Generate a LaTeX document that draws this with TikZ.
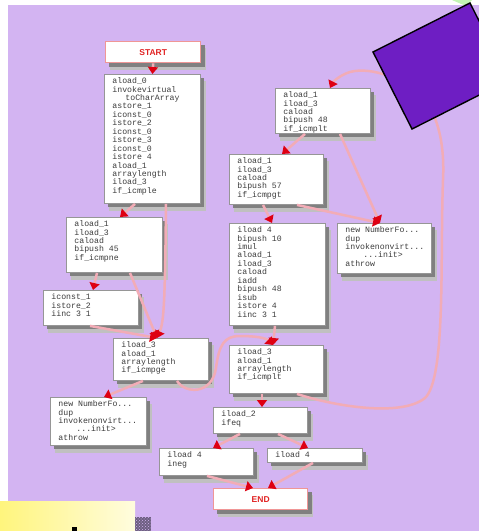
\documentclass[tikz,border=0pt]{standalone}
\usepackage{fontspec}
\usetikzlibrary{arrows.meta,patterns}
\newfontfamily\codefont{Liberation Mono}
\newfontfamily\labelfont{Liberation Sans}
\definecolor{lavender}{RGB}{211,180,242}
\definecolor{edgepink}{RGB}{242,172,182}
\definecolor{arrowred}{RGB}{222,0,18}
\definecolor{boxedge}{RGB}{150,150,150}
\definecolor{shdark}{RGB}{128,128,128}
\definecolor{shlight}{RGB}{192,192,192}
\definecolor{codetext}{RGB}{60,60,60}
\definecolor{termedge}{RGB}{240,150,150}
\definecolor{termtext}{RGB}{225,35,35}
\definecolor{squarepurple}{RGB}{110,30,195}
\definecolor{cornergreen}{RGB}{195,245,180}
\definecolor{noteyellow}{RGB}{255,245,125}
\definecolor{notepale}{RGB}{255,252,222}
\definecolor{speckle}{RGB}{110,95,130}
\pgfdeclarelayer{canvas}
\pgfdeclarelayer{shadow}
\pgfsetlayers{canvas,shadow,main}
% a block of bytecode lines, top aligned in a box of given width and height
\newcommand{\codelines}[3]{\begin{minipage}[c][#2][t]{#1}\raggedright\leftskip=8pt\relax
  \fontsize{8.2}{8.45}\selectfont\vspace*{3.2pt}#3\end{minipage}}
\tikzset{
  blk/.style={draw=boxedge, line width=0.9pt, fill=white, anchor=north west,
    inner sep=0pt, text=codetext, font=\codefont},
  term/.style={draw=termedge, line width=1.4pt, fill=white, anchor=north west,
    inner sep=0pt, text=termtext, font=\labelfont\bfseries\fontsize{8.5}{9}\selectfont},
  flow/.style={draw=edgepink, line width=2.5pt,
    -{Triangle[width=10pt,length=7pt,color=arrowred,fill=arrowred]}},
}
\begin{document}
\begin{tikzpicture}[x=1pt,y=-1pt]
\useasboundingbox (0,0) rectangle (479,531);
% canvas
\begin{pgfonlayer}{canvas}
\fill[white] (0,0) rectangle (479,531);
\fill[lavender] (8,5) rectangle (479,531);
\end{pgfonlayer}

% terminals
\node[term, minimum width=95pt, minimum height=21pt] (start) at (105,41) {START};
\node[term, minimum width=94pt, minimum height=21pt] (end) at (213,488) {END};

% basic blocks
\node[blk] (b1) at (104,74) {\codelines{96pt}{129pt}{aload\_0\\invokevirtual\\\hspace*{13pt}toCharArray\\astore\_1\\iconst\_0\\istore\_2\\iconst\_0\\istore\_3\\iconst\_0\\istore 4\\aload\_1\\arraylength\\iload\_3\\if\_icmple}};
\node[blk] (b2) at (275,88) {\codelines{95pt}{45pt}{aload\_1\\iload\_3\\caload\\bipush 48\\if\_icmplt}};
\node[blk] (b3) at (229,154) {\codelines{94pt}{50pt}{aload\_1\\iload\_3\\caload\\bipush 57\\if\_icmpgt}};
\node[blk] (b4) at (66,217) {\codelines{96pt}{55pt}{aload\_1\\iload\_3\\caload\\bipush 45\\if\_icmpne}};
\node[blk] (b5) at (43,290) {\codelines{95pt}{35pt}{iconst\_1\\istore\_2\\iinc 3 1}};
\node[blk] (b6) at (229,223) {\codelines{96pt}{102pt}{iload 4\\bipush 10\\imul\\aload\_1\\iload\_3\\caload\\iadd\\bipush 48\\isub\\istore 4\\iinc 3 1}};
\node[blk] (b7) at (337,223) {\codelines{94pt}{50pt}{new NumberFo...\\dup\\invokenonvirt...\\\hspace*{18pt}...init>\\athrow}};
\node[blk] (b8) at (113,338) {\codelines{95pt}{42pt}{iload\_3\\aload\_1\\arraylength\\if\_icmpge}};
\node[blk] (b9) at (229,345) {\codelines{94pt}{48pt}{iload\_3\\aload\_1\\arraylength\\if\_icmplt}};
\node[blk] (b10) at (50,397) {\codelines{96pt}{48pt}{new NumberFo...\\dup\\invokenonvirt...\\\hspace*{18pt}...init>\\athrow}};
\node[blk] (b11) at (213,407) {\codelines{94pt}{26pt}{iload\_2\\ifeq}};
\node[blk] (b12) at (159,448) {\codelines{94pt}{27pt}{iload 4\\ineg}};
\node[blk] (b13) at (267,448) {\codelines{95pt}{14pt}{iload 4}};

% stepped drop shadows under every box
\begin{pgfonlayer}{shadow}
\foreach \n in {start,end,b1,b2,b3,b4,b5,b6,b7,b8,b9,b10,b11,b12,b13}{
  \fill[shlight] ([xshift=5pt,yshift=-7pt]\n.north west) rectangle ([xshift=5pt,yshift=-7pt]\n.south east);
  \fill[shdark] ([xshift=3.5pt,yshift=-3.5pt]\n.north west) rectangle ([xshift=3.5pt,yshift=-3.5pt]\n.south east);
}
\end{pgfonlayer}

% control flow
\draw[flow] (start.south) -- (b1.north);
\draw[flow] ([xshift=31pt]b1.south west) -- ([xshift=54pt]b4.north west);
\draw[flow] ([xshift=62pt]b1.south west) .. controls (165,300) and (164,322) .. ([xshift=44pt]b8.north west);
\draw[flow] ([xshift=31pt]b4.south west) -- ([xshift=50pt]b5.north west);
\draw[flow] ([xshift=64pt]b4.south west) -- ([xshift=44pt]b8.north west);
\draw[flow] ([xshift=47pt]b5.south west) -- ([xshift=44pt]b8.north west);
\draw[flow] ([xshift=30pt]b8.south west) -- ([xshift=54pt]b10.north west);
\draw[flow] ([xshift=64pt]b8.south west) .. controls (185,394) and (212,395) .. (216,368)
  .. controls (219,345) and (224,336) .. (240,336)
  .. controls (256,336) and (266,338) .. ([xshift=44pt]b9.north west);
\draw[flow] ([xshift=46pt]b6.south west) -- ([xshift=44pt]b9.north west);
\draw[flow] ([xshift=30pt]b2.south west) -- ([xshift=53pt]b3.north west);
\draw[flow] ([xshift=65pt]b2.south west) -- ([xshift=43pt]b7.north west);
\draw[flow] ([xshift=34pt]b3.south west) -- ([xshift=43pt]b6.north west);
\draw[flow] ([xshift=68pt]b3.south west) -- ([xshift=43pt]b7.north west);
\draw[flow] ([xshift=68pt]b9.south west) .. controls (330,405) and (400,418) .. (425,398)
  .. controls (446,378) and (440,260) .. (443,180)
  .. controls (445,140) and (436,110) .. (420,95)
  .. controls (405,80) and (372,66) .. (350,72)
  .. controls (340,75) and (333,82) .. ([xshift=55pt]b2.north west);
\draw[flow] ([xshift=33pt]b9.south west) -- ([xshift=49pt]b11.north west);
\draw[flow] ([xshift=27pt]b11.south west) -- ([xshift=54pt]b12.north west);
\draw[flow] ([xshift=65pt]b11.south west) -- ([xshift=41pt]b13.north west);
\draw[flow] ([xshift=48pt]b12.south west) -- ([xshift=40pt]end.north west);
\draw[flow] ([xshift=46pt]b13.south west) -- ([xshift=55pt]end.north west);

% overlapping shapes at the corners
\fill[cornergreen] (452,0) -- (472,0) -- (466,6) -- cycle;
\draw[fill=squarepurple, line width=1.4pt, line join=miter] (373,52) -- (412,129) -- (509,80) -- (470,3) -- cycle;
\shade[left color=noteyellow, right color=notepale] (0,501) rectangle (135,531);
\fill[black] (72,527) rectangle (77,531);
\fill[speckle] (135,517) rectangle (151,531);
\fill[pattern=crosshatch dots, pattern color=lavender] (135,517) rectangle (151,531);
\end{tikzpicture}
\end{document}
